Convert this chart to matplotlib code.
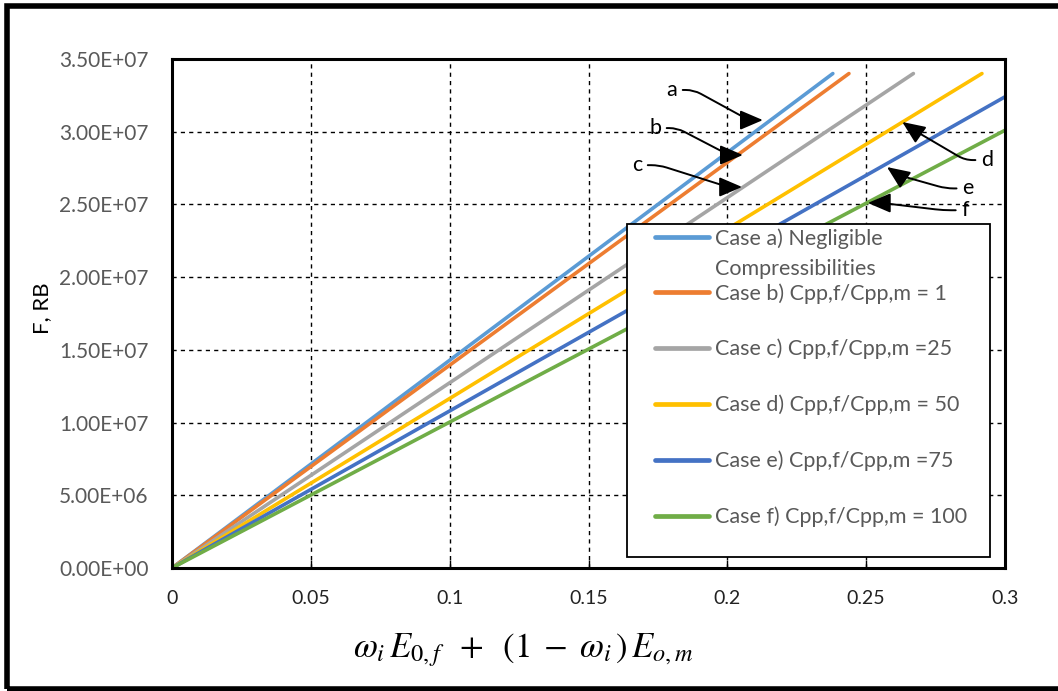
import numpy as np
import matplotlib
matplotlib.use("Agg")
import matplotlib.pyplot as plt
from matplotlib.patches import Rectangle
from matplotlib.lines import Line2D
from matplotlib.ticker import FuncFormatter

plt.rcParams['font.family'] = ['Lato', 'DejaVu Sans']
plt.rcParams['mathtext.fontset'] = 'stix'

# each case is a straight line from the origin
case_labels = ['Case a) Negligible',
               'Case b) Cpp,f/Cpp,m = 1',
               'Case c) Cpp,f/Cpp,m =25',
               'Case d) Cpp,f/Cpp,m = 50',
               'Case e) Cpp,f/Cpp,m =75',
               'Case f) Cpp,f/Cpp,m = 100']
label_a_cont = 'Compressibilities'
x_end = [0.238, 0.2438, 0.267, 0.2917, 0.30, 0.30]
y_end = [3.40e7, 3.40e7, 3.40e7, 3.40e7, 3.24e7, 3.01e7]
colors = ['#5B9BD5', '#ED7D31', '#A5A5A5', '#FFC000', '#4472C4', '#70AD47']

x_ticks = [0, 0.05, 0.1, 0.15, 0.2, 0.25, 0.3]
x_ticklabels = ['0', '0.05', '0.1', '0.15', '0.2', '0.25', '0.3']
y_ticks = np.arange(0, 3.5e7 + 1, 5e6)

# annotation letters: text position, arrow tip
ann_letters = ['a', 'b', 'c', 'd', 'e', 'f']
ann_text = [(0.180, 3.287e7), (0.174, 3.025e7), (0.1675, 2.77e7),
            (0.2935, 2.805e7), (0.2866, 2.61e7), (0.2856, 2.46e7)]
ann_tip = [(0.2128, 3.08e7), (0.2056, 2.84e7), (0.2053, 2.62e7),
           (0.263, 3.067e7), (0.2575, 2.757e7), (0.2506, 2.51e7)]
ann_angB = [180, 180, 180, -35, -35, 0]

fig = plt.figure(figsize=(10.58, 6.91), dpi=100)
ax = fig.add_axes([172/1058, 1-568/691, (1005-172)/1058, (568-59)/691])

lines = []
for xe, ye, c, lab in zip(x_end, y_end, colors, case_labels):
    ln, = ax.plot([0, xe], [0, ye], color=c, lw=2.6, solid_capstyle='round', label=lab)
    lines.append(ln)

ax.set_xlim(0, 0.3)
ax.set_ylim(0, 3.5e7)
ax.set_xticks(x_ticks)
ax.set_xticklabels(x_ticklabels)
ax.set_yticks(y_ticks)
ax.yaxis.set_major_formatter(FuncFormatter(lambda v, p: f"{v:.2E}"))
ax.grid(True, color='black', linestyle=(0, (3, 3)), lw=1)
ax.tick_params(axis='x', direction='in', length=6, width=1, pad=16,
               labelsize=14, labelcolor='#222222')
ax.tick_params(axis='y', length=0, pad=17, labelsize=15, labelcolor='#595959')
for s in ax.spines.values():
    s.set_linewidth(2.2)
    s.set_color('black')

for let, tpos, tip, angB in zip(ann_letters, ann_text, ann_tip, ann_angB):
    angA = 0 if tip[0] > tpos[0] else 180
    ax.annotate(let, xy=tip, xytext=tpos, fontsize=15.5, ha='center', va='center',
                arrowprops=dict(arrowstyle='-|>,head_length=0.7,head_width=0.3',
                                color='black', lw=1.4, mutation_scale=20,
                                shrinkA=2, shrinkB=0,
                                connectionstyle=f'arc,angleA={angA},angleB={angB},'
                                                f'armA=22,armB=14,rad=8'))

# legend frame and the two legend blocks
ax.add_patch(Rectangle((0.546, 0.0216), 0.436, 0.654, transform=ax.transAxes,
                       facecolor='white', edgecolor='black', lw=1.3, zorder=4))
blank = Line2D([], [], color='none')
leg_a = ax.legend([lines[0], blank], [case_labels[0], label_a_cont],
                  loc='upper left', bbox_to_anchor=(0.580, 0.668), frameon=False,
                  fontsize=15.5, handlelength=2.5, handletextpad=0.3,
                  labelspacing=0.47, borderpad=0, borderaxespad=0)
leg_a.set_zorder(5)
ax.add_artist(leg_a)
leg_b = ax.legend(lines[1:], case_labels[1:],
                  loc='upper left', bbox_to_anchor=(0.580, 0.560), frameon=False,
                  fontsize=15.5, handlelength=2.5, handletextpad=0.3,
                  labelspacing=1.64, borderpad=0, borderaxespad=0)
leg_b.set_zorder(5)
for lg in (leg_a, leg_b):
    for t in lg.get_texts():
        t.set_color('#595959')
    for h in lg.get_lines():
        h.set_linewidth(3.4)

fig.text(42/1058, 1-308/691, 'F, RB', rotation=90, ha='center', va='center',
         fontsize=16)
fig.text(523/1058, 1-650/691,
         r'$\omega_i\,E_{0,f}\;\;+\;\;(1\;-\;\omega_i\,)\,E_{o,m}$',
         ha='center', va='center', fontsize=25)

fig.patches.append(Rectangle((6.5/1058, 1-689/691), 1.1, (689-5.5)/691,
                             transform=fig.transFigure, fill=False,
                             edgecolor='black', lw=4, clip_on=False))

fig.savefig('out.png', dpi=100)
